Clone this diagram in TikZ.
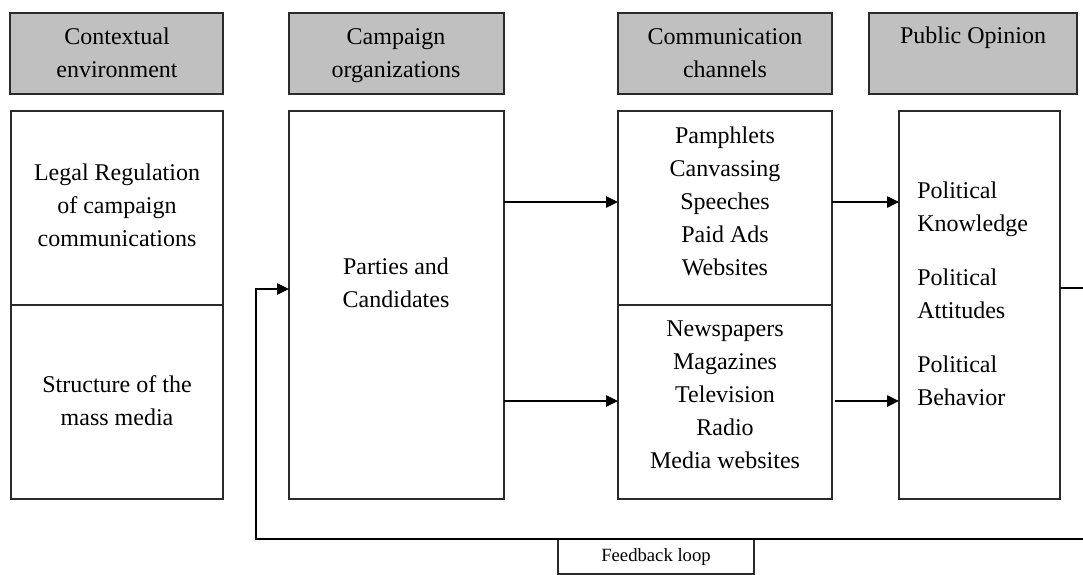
\documentclass[tikz,border=0pt]{standalone}
\usepackage{fontspec}
\setmainfont{Liberation Serif}
\usetikzlibrary{arrows.meta,fit}
\definecolor{hdrgray}{HTML}{C0C0C0}
\definecolor{edge}{HTML}{2A2A2A}
\begin{document}
\begin{tikzpicture}[x=0.75pt,y=-0.75pt,
  box/.style={draw=edge, line width=1.3pt, inner sep=0pt, outer sep=0pt},
  hdr/.style={box, fill=hdrgray},
  txt/.style={font=\fontsize{18}{24.75}\selectfont, align=center, inner sep=0pt},
  hdrtxt/.style={txt, anchor=north},
  smalltxt/.style={font=\fontsize{14}{16}\selectfont, inner sep=0pt},
  conn/.style={draw=black, line width=1.1pt, -{Triangle[length=9pt,width=8.5pt]}},
]
\useasboundingbox (0,0) rectangle (1083,575);
\fill[white] (0,0) rectangle (1083,575);

% header boxes
\node (h1) [hdr, fit={(10,13) (223,94)}] {};
\node (h2) [hdr, fit={(289,13) (504,94)}] {};
\node (h3) [hdr, fit={(618,13) (832,94)}] {};
\node (h4) [hdr, fit={(869,13) (1077,94)}] {};
\node (h1t) [hdrtxt] at (117,28) {Contextual\\environment};
\node (h2t) [hdrtxt] at (396,28) {Campaign\\organizations};
\node (h3t) [hdrtxt] at (725,28) {Communication\\channels};
\node (h4t) [hdrtxt] at (973,27) {Public Opinion};

% main boxes
\node (legal)   [box, fit={(11,111) (223,305)}] {};
\node (struct)  [box, fit={(11,305) (223,499)}] {};
\node (parties) [box, fit={(289,111) (504,499)}] {};
\node (own)     [box, fit={(618,111) (832,305)}] {};
\node (media)   [box, fit={(618,305) (832,499)}] {};
\node (po)      [box, fit={(899,111) (1060,499)}] {};
\node (fb)      [box, line width=1.1pt, fit={(558,539) (754,574)}] {};

% texts
\node (legalt)   [txt] at (117,205) {Legal Regulation\\of campaign\\communications};
\node (structt)  [txt] at (117,401) {Structure of the\\mass media};
\node (partiest) [txt] at (396,283) {Parties and\\Candidates};
\node (ownt)     [txt] at (725,201) {Pamphlets\\Canvassing\\Speeches\\Paid Ads\\Websites};
\node (mediat)   [txt] at (725,395) {Newspapers\\Magazines\\Television\\Radio\\Media websites};
\node (pot)      [txt, align=left, anchor=west] at (917,294)
  {Political\\Knowledge\\[15.75pt]Political\\Attitudes\\[15.75pt]Political\\Behavior};
\node (fbt)      [smalltxt] at (656,557) {Feedback loop};

% connector rows
\coordinate (r1) at (0,202);
\coordinate (r2) at (0,401);
\coordinate (r3) at (0,288);
\coordinate (r4) at (0,289);
\coordinate (edgeTop) at (1086,288);
\coordinate (edgeBot) at (1086,539);
\coordinate (fbL) at (256,539);

\draw[conn] (parties.east |- r1) -- (own.west |- r1);
\draw[conn] (parties.east |- r2) -- (media.west |- r2);
\draw[conn] (own.east |- r1) -- (po.west |- r1);
\draw[conn, shorten <=2.5pt] (media.east |- r2) -- (po.west |- r2);
\draw[conn] (po.east |- r3) -- (edgeTop) -- (edgeBot) -- (fbL) |- (parties.west |- r4);
\end{tikzpicture}
\end{document}
